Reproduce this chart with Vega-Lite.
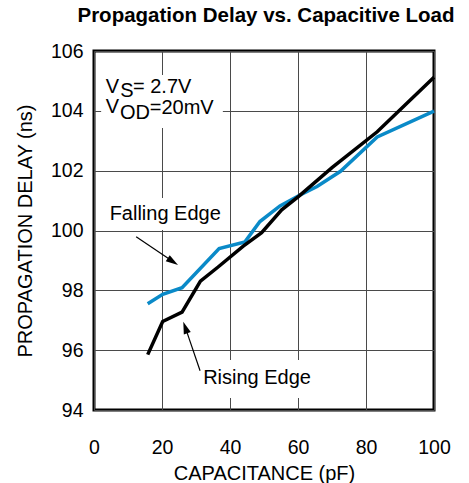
{
  "$schema": "https://vega.github.io/schema/vega-lite/v6.json",
  "width": 340,
  "height": 359,
  "autosize": {"type": "none"},
  "padding": {"left": 94, "top": 51, "right": 35, "bottom": 73},
  "background": "white",
  "title": {
    "text": "Propagation Delay vs. Capacitive Load",
    "font": "Liberation Sans",
    "fontSize": 20.5,
    "fontWeight": "bold",
    "color": "black",
    "anchor": "middle",
    "baseline": "alphabetic",
    "offset": 23,
    "dx": 2,
    "dy": 24
  },
  "config": {
    "view": {"stroke": "black", "strokeWidth": 3},
    "axis": {
      "labelFont": "Liberation Sans",
      "titleFont": "Liberation Sans",
      "labelFontSize": 19.5,
      "titleFontSize": 20,
      "titleFontWeight": "normal",
      "labelColor": "black",
      "titleColor": "black",
      "gridColor": "#4a4a4a",
      "gridWidth": 1,
      "gridOpacity": 1,
      "domain": false,
      "ticks": false,
      "tickSize": 0,
      "labelFlush": false
    }
  },
  "datasets": {
    "curves": [
      {"series": "Falling", "cap": 15.8, "delay": 97.55},
      {"series": "Falling", "cap": 20.2, "delay": 97.87},
      {"series": "Falling", "cap": 25.9, "delay": 98.09},
      {"series": "Falling", "cap": 36.8, "delay": 99.4},
      {"series": "Falling", "cap": 44.4, "delay": 99.62},
      {"series": "Falling", "cap": 48.8, "delay": 100.3},
      {"series": "Falling", "cap": 54.7, "delay": 100.82},
      {"series": "Falling", "cap": 60.2, "delay": 101.16},
      {"series": "Falling", "cap": 65.6, "delay": 101.47},
      {"series": "Falling", "cap": 72.5, "delay": 101.98},
      {"series": "Falling", "cap": 83.3, "delay": 103.13},
      {"series": "Falling", "cap": 100, "delay": 103.99},
      {"series": "Rising", "cap": 15.8, "delay": 95.85},
      {"series": "Rising", "cap": 20.2, "delay": 96.96},
      {"series": "Rising", "cap": 25.9, "delay": 97.27},
      {"series": "Rising", "cap": 31.3, "delay": 98.31},
      {"series": "Rising", "cap": 36.5, "delay": 98.78},
      {"series": "Rising", "cap": 43.9, "delay": 99.48},
      {"series": "Rising", "cap": 49.3, "delay": 99.93},
      {"series": "Rising", "cap": 55.2, "delay": 100.69},
      {"series": "Rising", "cap": 60.2, "delay": 101.14},
      {"series": "Rising", "cap": 70, "delay": 102.1},
      {"series": "Rising", "cap": 83.3, "delay": 103.3},
      {"series": "Rising", "cap": 100, "delay": 105.12}
    ],
    "boxes": [
      {"x1": 2.1, "x2": 37.9, "y1": 105.2, "y2": 103.43},
      {"x1": 3.2, "x2": 38.8, "y1": 101.09, "y2": 100.02},
      {"x1": 30.3, "x2": 65.6, "y1": 95.67, "y2": 94.4}
    ],
    "labels": [
      {"x": 4.6, "y": 100.35, "text": "Falling Edge"},
      {"x": 32.1, "y": 94.87, "text": "Rising Edge"},
      {"x": 3.44, "y": 104.59, "text": "V"},
      {"x": 7.74, "y": 104.47, "text": "S"},
      {"x": 11.47, "y": 104.59, "text": "= 2.7V"},
      {"x": 3.44, "y": 103.92, "text": "V"},
      {"x": 7.65, "y": 103.73, "text": "OD"},
      {"x": 16.4, "y": 103.89, "text": "=20mV"}
    ],
    "arrows": [
      {"arrow": "falling", "x1": 12.4, "y1": 99.79, "x2": 23.2, "y2": 98.96},
      {"arrow": "rising", "x1": 31.2, "y1": 95.31, "x2": 26.85, "y2": 96.76}
    ]
  },
  "layer": [
    {
      "data": {"name": "boxes"},
      "mark": {"type": "rect", "fill": "white", "stroke": null},
      "encoding": {
        "x": {
          "field": "x1", "type": "quantitative",
          "scale": {"domain": [0, 100], "nice": false, "zero": false},
          "axis": {
            "values": [0, 20, 40, 60, 80, 100],
            "grid": true,
            "labelPadding": 43,
            "labelBaseline": "alphabetic",
            "title": "CAPACITANCE (pF)",
            "titleY": 69,
            "titleBaseline": "alphabetic"
          }
        },
        "x2": {"field": "x2"},
        "y": {
          "field": "y1", "type": "quantitative",
          "scale": {"domain": [94, 106], "nice": false, "zero": false},
          "axis": {
            "values": [94, 96, 98, 100, 102, 104, 106],
            "grid": true,
            "labelPadding": 11,
            "title": "PROPAGATION DELAY (ns)",
            "titleX": -63,
            "titleBaseline": "alphabetic"
          }
        },
        "y2": {"field": "y2"}
      }
    },
    {
      "data": {"name": "curves"},
      "transform": [{"filter": "datum.series === 'Falling'"}],
      "mark": {"type": "line", "color": "#0a8ac8", "strokeWidth": 3.5, "strokeJoin": "miter"},
      "encoding": {
        "x": {"field": "cap", "type": "quantitative"},
        "y": {"field": "delay", "type": "quantitative"}
      }
    },
    {
      "data": {"name": "curves"},
      "transform": [{"filter": "datum.series === 'Rising'"}],
      "mark": {"type": "line", "color": "black", "strokeWidth": 3.5, "strokeJoin": "miter"},
      "encoding": {
        "x": {"field": "cap", "type": "quantitative"},
        "y": {"field": "delay", "type": "quantitative"}
      }
    },
    {
      "data": {"name": "arrows"},
      "mark": {"type": "rule", "color": "black", "strokeWidth": 1.2},
      "encoding": {
        "x": {"field": "x1", "type": "quantitative"},
        "y": {"field": "y1", "type": "quantitative"},
        "x2": {"field": "x2"},
        "y2": {"field": "y2"}
      }
    },
    {
      "data": {"name": "arrows"},
      "transform": [{"filter": "datum.arrow === 'falling'"}],
      "mark": {"type": "point", "shape": "M0,-1L0.6,1L-0.6,1Z", "filled": true, "color": "black", "opacity": 1, "size": 150, "angle": 123},
      "encoding": {
        "x": {"field": "x2", "type": "quantitative"},
        "y": {"field": "y2", "type": "quantitative"}
      }
    },
    {
      "data": {"name": "arrows"},
      "transform": [{"filter": "datum.arrow === 'rising'"}],
      "mark": {"type": "point", "shape": "M0,-1L0.6,1L-0.6,1Z", "filled": true, "color": "black", "opacity": 1, "size": 150, "angle": 341},
      "encoding": {
        "x": {"field": "x2", "type": "quantitative"},
        "y": {"field": "y2", "type": "quantitative"}
      }
    },
    {
      "data": {"name": "labels"},
      "mark": {"type": "text", "font": "Liberation Sans", "fontSize": 20, "align": "left", "baseline": "alphabetic", "color": "black"},
      "encoding": {
        "x": {"field": "x", "type": "quantitative"},
        "y": {"field": "y", "type": "quantitative"},
        "text": {"field": "text"}
      }
    }
  ]
}
